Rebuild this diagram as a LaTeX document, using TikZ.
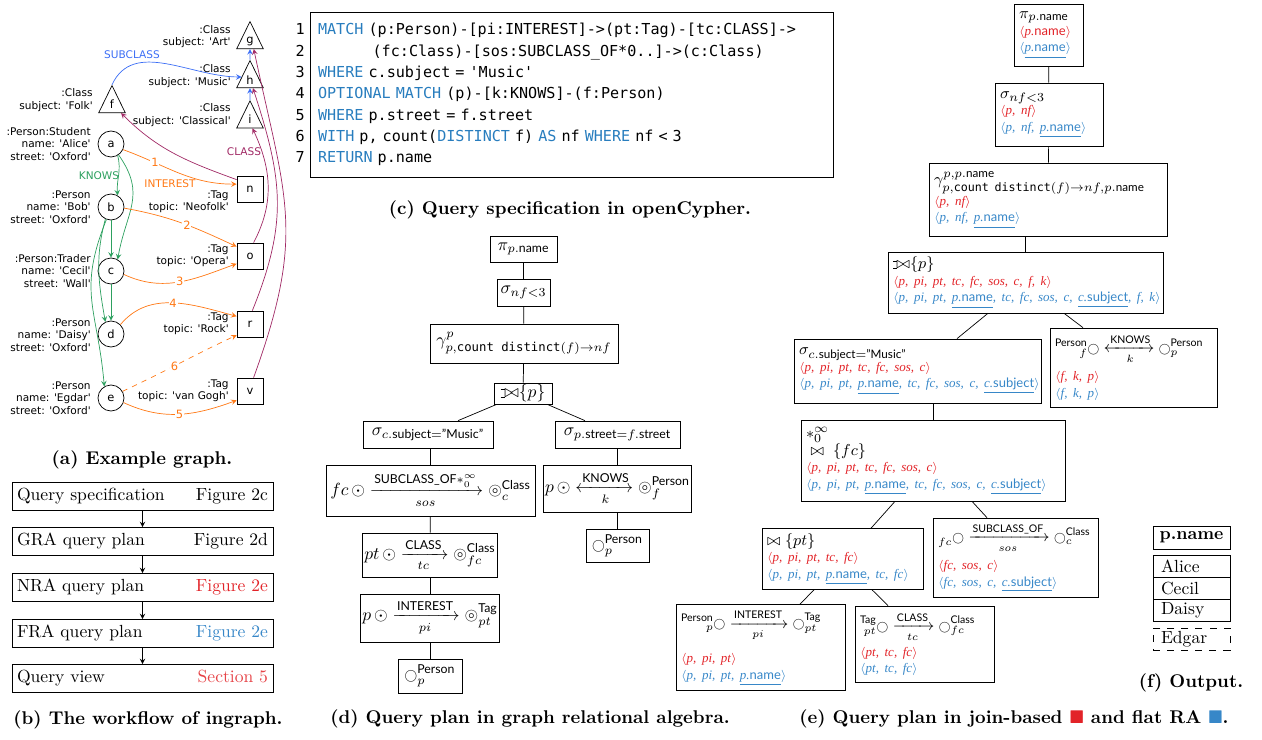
\documentclass[tikz,border=0pt]{standalone}
\usepackage{amsmath}
\usepackage{amssymb}
\usepackage{mathtools}
\usepackage{graphicx}
\usepackage{fontspec}
\setsansfont{Lato}
\setmonofont{DejaVu Sans Mono}
\newfontfamily\graphfont{DejaVu Sans}[Ligatures=TeXOff]
\newfontfamily\tupfont{Liberation Serif}
\usetikzlibrary{arrows,shapes.geometric}
\definecolor{R}{RGB}{226, 35, 40}
\definecolor{B}{RGB}{55, 135, 200}
\definecolor{O}{RGB}{255, 120, 20}
\definecolor{G}{RGB}{45, 160, 95}
\definecolor{P}{RGB}{160, 40, 100}
\definecolor{S}{RGB}{60, 110, 245}
\definecolor{kw}{RGB}{40, 125, 190}
\newcommand{\ojbar}{\setbox0=\hbox{$\bowtie$}\rule[-.02ex]{.25em}{.4pt}\llap{\rule[\ht0]{.25em}{.4pt}}}
\newcommand{\lojoin}{\mathbin{\ojbar\mkern-5.8mu\bowtie}}
\newcommand{\gv}{\mathord{\raisebox{0.05ex}{\scalebox{0.72}{$\bigcirc$}}}}
\newcommand{\src}{\mathord{\odot}}
\newcommand{\trg}{\mathord{\circledcirc}}
\newcommand{\pname}{p.{\upshape\sffamily name}}
\newcommand{\pnm}{\underline{\pname}}
\newcommand{\csub}{\underline{c.{\upshape\sffamily subject}}}
\newcommand{\redtup}[1]{{\color{R}\fontsize{7.4}{9.4}\tupfont\itshape\mbox{$\langle$#1$\rangle$}}}
\newcommand{\bluetup}[1]{{\color{B}\fontsize{7.4}{9.4}\tupfont\itshape\mbox{$\langle$#1$\rangle$}}}
\newcommand{\edgeline}[1]{{\fontsize{9}{9.4}\selectfont\mbox{$#1$}}}
\tikzset{
  person/.style={circle, draw, minimum size=0.52cm, inner sep=0pt, font=\graphfont\fontsize{6.5}{7}\selectfont},
  tag/.style={rectangle, draw, minimum size=0.52cm, inner sep=0pt, font=\graphfont\fontsize{6.5}{7}\selectfont},
  class/.style={isosceles triangle, shape border rotate=90, isosceles triangle apex angle=52, draw,
    minimum width=0.53cm, minimum height=0.53cm, inner sep=0pt, font=\graphfont\fontsize{6.5}{7}\selectfont},
  prop/.style={align=right, anchor=east, inner sep=0pt, font=\graphfont\fontsize{6}{7.1}\selectfont},
  elabel/.style={inner sep=0pt, font=\graphfont\fontsize{6}{7}\selectfont},
  num/.style={fill=white, inner sep=0.5pt, text=O, font=\graphfont\fontsize{6.5}{7}\selectfont},
  knows/.style={draw=G, ->, >=stealth},
  interest/.style={draw=O, ->, >=stealth},
  classedge/.style={draw=P, ->, >=stealth},
  subclass/.style={draw=S, ->, >=stealth},
  wfbox/.style={draw, minimum height=0.56cm, inner xsep=0.1cm, font=\fontsize{10}{12}\selectfont},
  dbox/.style={draw, inner sep=1pt, align=center, font=\fontsize{10}{12}\selectfont},
  ebox/.style={draw, inner sep=0.1cm, align=left, font=\fontsize{9.5}{9.4}\selectfont},
  capt/.style={font=\bfseries\fontsize{10.5}{12}\selectfont},
  cell/.style={draw, minimum height=0.44cm, text width=1.22cm, inner xsep=0.16cm, inner ysep=1pt, align=left,
    font=\fontsize{10}{12}\selectfont}
}

\begin{document}
\begin{tikzpicture}[x=0.02cm, y=-0.02cm]
  \useasboundingbox (0,0) rectangle (1262,740);

  % (a) example graph
  \node[class] (g) at (250,41) {g};
  \node[class] (h) at (250,80) {h};
  \node[class] (i) at (250,119) {i};
  \node[class] (f) at (112,104) {f};
  \node[person] (a) at (111,144) {a};
  \node[person] (b) at (111,207) {b};
  \node[person] (c) at (111,271) {c};
  \node[person] (d) at (111,334) {d};
  \node[person] (e) at (111,398) {e};
  \node[tag] (n) at (250,189) {n};
  \node[tag] (o) at (250,256) {o};
  \node[tag] (r) at (250,324) {r};
  \node[tag] (v) at (250,391) {v};
  \node[prop] (lg) at (231,36.5) {:Class\\subject: 'Art'};
  \node[prop] (lh) at (231,76) {:Class\\subject: 'Music'};
  \node[prop] (li) at (231,115) {:Class\\subject: 'Classical'};
  \node[prop] (lf) at (93,100) {:Class\\subject: 'Folk'};
  \node[prop] (la) at (91,144) {:Person:Student\\name: 'Alice'\\street: 'Oxford'};
  \node[prop] (lb) at (91,207) {:Person\\name: 'Bob'\\street: 'Oxford'};
  \node[prop] (lc) at (91,271) {:Person:Trader\\name: 'Cecil'\\street: 'Wall'};
  \node[prop] (ld) at (91,335) {:Person\\name: 'Daisy'\\street: 'Oxford'};
  \node[prop] (le) at (91,398) {:Person\\name: 'Egdar'\\street: 'Oxford'};
  \node[prop] (ln) at (229,201.5) {:Tag\\topic: 'Neofolk'};
  \node[prop] (lo) at (229,256) {:Tag\\topic: 'Opera'};
  \node[prop] (lr) at (229,324) {:Tag\\topic: 'Rock'};
  \node[prop] (lv) at (229,391) {:Tag\\topic: 'van Gogh'};
  \node[elabel, text=S] (subl) at (132,55) {SUBCLASS};
  \node[elabel, text=G] (knl) at (99,176) {KNOWS};
  \node[elabel, text=O] (intl) at (170,184) {INTEREST};
  \node[elabel, text=P] (cll) at (244,152) {CLASS};

  \draw[subclass] (f.north) to[out=65, in=180] (h.160);
  \draw[subclass] (i.north) -- (h.south);
  \draw[subclass] (h.north) -- (g.south);
  \draw[knows] (a.-60) to[out=-75, in=95] (b.60);
  \draw[knows] (a.-55) to[out=-55, in=80, looseness=1.2] (c.60);
  \draw[knows] (b) -- (c);
  \draw[knows] (b.-115) to[out=-105, in=100] (d.115);
  \draw[knows] (c) -- (d);
  \draw[knows] (b.-110) to[out=-112, in=95, looseness=1.2] (e.120);
  \draw[interest] (a.-25) to[out=-20, in=180] node[num, pos=0.27] {1} (n.160);
  \draw[interest] (b.-5) to[out=-10, in=155] node[num, pos=0.55] {2} (o.145);
  \draw[interest] (c.-15) to[out=-25, in=200] node[num, pos=0.5] {3} (o.210);
  \draw[interest] (d.45) to[out=50, in=165] node[num, pos=0.5] {4} (r.150);
  \draw[interest] (e.-20) to[out=-25, in=200] node[num, pos=0.5] {5} (v.215);
  \draw[interest, dashed] (e.30) to[out=25, in=205] node[num, pos=0.45] {6} (r.220);
  \draw[classedge] (n.145) to[out=160, in=-45] (f.-45);
  \draw[classedge] (o.75) to[out=62, in=-65] (i.-75);
  \draw[classedge] (r.80) to[out=68, in=-72, looseness=1.1] (h.-70);
  \draw[classedge] (v.75) to[out=70, in=-78, looseness=1.2] (g.-65);
  \node[capt] (capa) at (142,460) {(a) Example graph.};

  % (b) workflow
  \node[wfbox] (wf1) at (142.5,496) {\makebox[5.02cm]{Query specification\hfill Figure 2c}};
  \node[wfbox] (wf2) at (142.5,541.5) {\makebox[5.02cm]{GRA query plan\hfill Figure 2d}};
  \node[wfbox] (wf3) at (142.5,587.5) {\makebox[5.02cm]{NRA query plan\hfill \textcolor{R}{Figure 2e}}};
  \node[wfbox] (wf4) at (142.5,633.5) {\makebox[5.02cm]{FRA query plan\hfill \textcolor{B}{Figure 2e}}};
  \node[wfbox] (wf5) at (142.5,678.5) {\makebox[5.02cm]{Query view\hfill \textcolor{R!85!white}{Section 5}}};
  \foreach \u/\w in {wf1/wf2, wf2/wf3, wf3/wf4, wf4/wf5}
    \draw[->, >=stealth] (\u) -- (\w);
  \node[capt] (capb) at (148,720) {(b) The workflow of ingraph.};

  % (c) openCypher
  \node[draw, text width=10.14cm, inner xsep=0.16cm, minimum height=3.3cm, align=left,
    font=\ttfamily\fontsize{8.6}{12.1}\selectfont] (code) at (571.5,94.5)
    {\strut\textcolor{kw}{MATCH} (p:Person)-[pi:INTEREST]->(pt:Tag)-[tc:CLASS]->\\
     \phantom{MATCHX}(fc:Class)-[sos:SUBCLASS\_OF*0..]->(c:Class)\\
     \textcolor{kw}{WHERE} c.subject = 'Music'\\
     \textcolor{kw}{OPTIONAL MATCH} (p)-[k:KNOWS]-(f:Person)\\
     \textcolor{kw}{WHERE} p.street = f.street\\
     \textcolor{kw}{WITH} p, count(\textcolor{kw}{DISTINCT} f) \textcolor{kw}{AS} nf \textcolor{kw}{WHERE} nf < 3\\
     \textcolor{kw}{RETURN} p.name\strut};
  \node[anchor=east, align=right, inner sep=0pt, font=\ttfamily\fontsize{8.6}{12.1}\selectfont] (lnum) at (305,94.5)
    {\strut 1\\\strut 2\\\strut 3\\\strut 4\\\strut 5\\\strut 6\\\strut 7};
  \node[capt] (capc) at (570,210) {(c) Query specification in openCypher.};

  % (d) graph relational algebra
  \node[dbox, minimum width=1.34cm, minimum height=0.52cm] (dpi) at (523.5,249) {$\pi_{p.\textsf{name}}$};
  \node[dbox, minimum width=1.06cm, minimum height=0.54cm] (dsel) at (523.5,292.5) {$\sigma_{nf<3}$};
  \node[dbox, minimum width=3.76cm, minimum height=0.78cm] (dgam) at (524,343.5)
    {$\gamma^{p}_{p,\texttt{count distinct}(f)\rightarrow nf}$};
  \node[dbox, minimum width=1.16cm, minimum height=0.42cm] (djoin) at (523,393.5) {$\lojoin\{p\}$};
  \node[dbox, minimum width=2.6cm, minimum height=0.54cm] (dsc) at (428,434.5)
    {$\sigma_{c.\textsf{subject}=\textsf{”Music”}}$};
  \node[dbox, minimum width=2.5cm, minimum height=0.54cm] (dsf) at (617.5,434.5)
    {$\sigma_{p.\textsf{street}=f.\textsf{street}}$};
  \node[dbox, minimum width=4.18cm, minimum height=1.02cm] (dsub) at (430.5,490.5)
    {$fc\,\src\xrightarrow[sos]{\textsf{SUBCLASS\_OF}*_0^{\infty}}\trg^{\textsf{Class}}_{c}$};
  \node[dbox, minimum width=2.9cm, minimum height=0.94cm] (dkn) at (617.5,488.5)
    {$p\,\src\xleftrightarrow[k]{\textsf{KNOWS}}\trg^{\textsf{Person}}_{f}$};
  \node[dbox, minimum width=1.26cm, minimum height=0.66cm] (dp2) at (617.5,545.5) {$\gv^{\textsf{Person}}_{p}$};
  \node[dbox, minimum width=2.6cm, minimum height=0.88cm] (dcl) at (430,555)
    {$pt\,\src\xrightarrow[tc]{\textsf{CLASS}}\trg^{\textsf{Class}}_{fc}$};
  \node[dbox, minimum width=2.72cm, minimum height=0.96cm] (dint) at (430,618)
    {$p\,\src\xrightarrow[pi]{\textsf{INTEREST}}\trg^{\textsf{Tag}}_{pt}$};
  \node[dbox, minimum width=1.28cm, minimum height=0.68cm] (dp1) at (430,676) {$\gv^{\textsf{Person}}_{p}$};
  \draw (dpi) -- (dsel);
  \draw (dsel) -- (dgam);
  \draw (dgam) -- (djoin);
  \draw ([xshift=0.06cm]djoin.south west) -- ([xshift=0.6cm]dsc.north);
  \draw ([xshift=-0.1cm]djoin.south east) -- ([xshift=-0.65cm]dsf.north);
  \draw (dsub.north) -- (dsub.north |- dsc.south);
  \draw (dcl) -- (dsub);
  \draw (dint) -- (dcl);
  \draw (dp1) -- (dint);
  \draw (dkn) -- (dsf);
  \draw (dp2) -- (dkn);
  \node[capt] (capd) at (530,719) {(d) Query plan in graph relational algebra.};

  % (e) join-based and flat relational algebra
  \node[ebox, text width=1.18cm, minimum height=1.24cm] (epi) at (1048.5,35)
    {$\pi_{p.\textsf{name}}$\\
     \redtup{\pname}\\
     \bluetup{\pnm}};
  \node[ebox, text width=1.96cm, minimum height=1.26cm] (esel) at (1049,114.5)
    {$\sigma_{nf<3}$\\
     \redtup{p, nf}\\
     \bluetup{p, nf, \pnm}};
  \node[ebox, text width=4.56cm, minimum height=1.46cm] (egam) at (1048,199.5)
    {$\gamma^{p,p.\textsf{name}}_{p,\texttt{count distinct}(f)\rightarrow nf,p.\textsf{name}}$\\
     \redtup{p, nf}\\
     \bluetup{p, nf, \pnm}};
  \node[ebox, text width=5.3cm, minimum height=1.18cm] (ejoin) at (1025.5,282.5)
    {$\lojoin\{p\}$\\
     \redtup{p, pi, pt, tc, fc, sos, c, f, k}\\
     \bluetup{p, pi, pt, \pnm, tc, fc, sos, c, \csub, f, k}};
  \node[ebox, text width=4.74cm, minimum height=1.28cm] (esc) at (917.5,371)
    {$\sigma_{c.\textsf{subject}=\textsf{”Music”}}$\\
     \redtup{p, pi, pt, tc, fc, sos, c}\\
     \bluetup{p, pi, pt, \pnm, tc, fc, sos, c, \csub}};
  \node[ebox, text width=3.14cm, minimum height=1.58cm] (ekn) at (1133.5,367.5)
    {\edgeline{\prescript{\textsf{Person}}{f}{\gv}\xleftrightarrow[k]{\textsf{KNOWS}}\gv^{\textsf{Person}}_{p}}\\[3pt]
     \redtup{f, k, p}\\
     \bluetup{f, k, p}};
  \node[ebox, text width=5.08cm, minimum height=1.62cm] (etr) at (933,460.5)
    {$*^{\infty}_{0}$\\
     $\;\bowtie\;\{fc\}$\\
     \redtup{p, pi, pt, tc, fc, sos, c}\\
     \bluetup{p, pi, pt, \pnm, tc, fc, sos, c, \csub}};
  \node[ebox, text width=3.02cm, minimum height=1.2cm] (ejpt) at (842.5,559)
    {$\bowtie\{pt\}$\\
     \redtup{p, pi, pt, tc, fc}\\
     \bluetup{p, pi, pt, \pnm, tc, fc}};
  \node[ebox, text width=3.1cm, minimum height=1.58cm] (esub) at (1015.5,557.5)
    {\edgeline{\prescript{}{fc}{\gv}\xrightarrow[sos]{\textsf{SUBCLASS\_OF}}\gv^{\textsf{Class}}_{c}}\\[3pt]
     \redtup{fc, sos, c}\\
     \bluetup{fc, sos, c, \csub}};
  \node[ebox, text width=3.18cm, minimum height=1.66cm] (eint) at (760.5,647.5)
    {\edgeline{\prescript{\textsf{Person}}{p}{\gv}\xrightarrow[pi]{\textsf{INTEREST}}\gv^{\textsf{Tag}}_{pt}}\\[6pt]
     \redtup{p, pi, pt}\\
     \bluetup{p, pi, pt, \pnm}};
  \node[ebox, text width=2.58cm, minimum height=1.52cm] (ecl) at (924.5,644)
    {\edgeline{\prescript{\textsf{Tag}}{pt}{\gv}\xrightarrow[tc]{\textsf{CLASS}}\gv^{\textsf{Class}}_{fc}}\\[2pt]
     \redtup{pt, tc, fc}\\
     \bluetup{pt, tc, fc}};
  \draw (epi) -- (esel);
  \draw (esel) -- (egam);
  \draw (ejoin.north) -- (ejoin.north |- egam.south);
  \draw ([xshift=-0.75cm]ejoin.south) -- ([xshift=0.79cm]esc.north);
  \draw ([xshift=0.77cm]ejoin.south) -- ([xshift=-1.01cm]ekn.north);
  \draw (etr.north) -- (etr.north |- esc.south);
  \draw ([xshift=-0.76cm]etr.south) -- ([xshift=0.57cm]ejpt.north);
  \draw ([xshift=0.78cm]etr.south) -- ([xshift=-0.57cm]esub.north);
  \draw ([xshift=-0.57cm]ejpt.south) -- ([xshift=0.79cm]eint.north);
  \draw ([xshift=0.59cm]ejpt.south) -- ([xshift=-0.73cm]ecl.north);
  \node[capt] (cape) at (1014,719)
    {(e) Query plan in join-based \textcolor{R}{$\blacksquare$} and flat RA \textcolor{B}{$\blacksquare$}.};

  % (f) output
  \node[draw, minimum width=1.54cm, minimum height=0.46cm, inner ysep=1pt, font=\bfseries\fontsize{10}{12}\selectfont] (fhead)
    at (1191.5,537.5) {p.name};
  \node[cell] (falice) at (1191.5,566) {Alice};
  \node[cell] (fcecil) at (1191.5,588) {Cecil};
  \node[cell] (fdaisy) at (1191.5,610) {Daisy};
  \node[cell, dash pattern=on 4pt off 4pt] (fedgar) at (1191.5,639) {Edgar};
  \node[capt] (capf) at (1191,683) {(f) Output.};
\end{tikzpicture}
\end{document}
